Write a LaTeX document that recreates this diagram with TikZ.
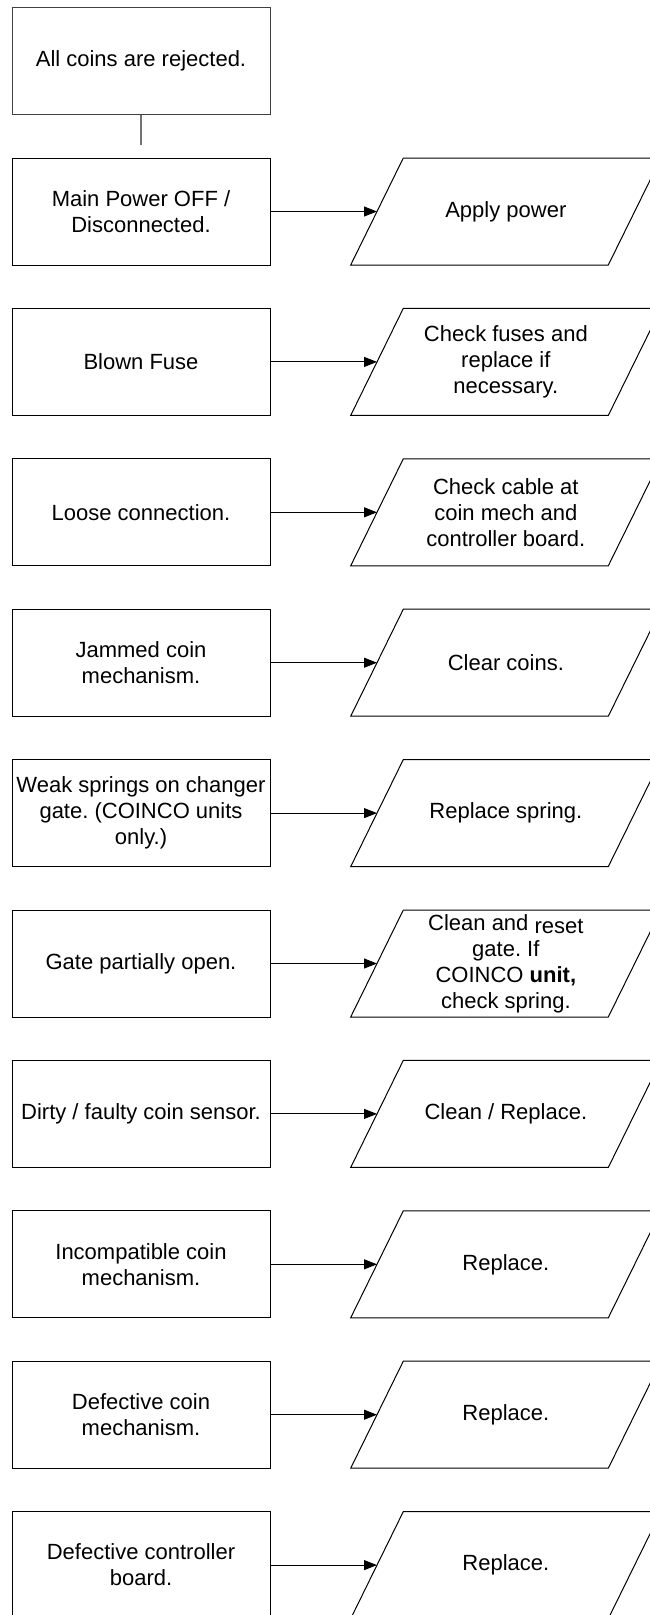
\documentclass[tikz,border=0pt]{standalone}
\usepackage{fontspec}
\setmainfont{Liberation Sans}
\usetikzlibrary{arrows.meta}
\frenchspacing
\newcommand{\diagfont}{\fontsize{22}{26}\selectfont\frenchspacing}
\newcommand{\mkrow}[4]{%
  \node[cause] (c#1) at (141,#2) {#3};
  \node[remedy] (r#1) at (505.85,#2) {#4};
  \draw[para] (350.7,#2+53.5) -- (403.3,#2-53.5) -- (661,#2-53.5) -- (608.3,#2+53.5) -- cycle;
  \coordinate (in#1) at (377,#2);
  \draw[link] (c#1.east) -- (in#1);
}
\begin{document}
\begin{tikzpicture}[x=1pt,y=-1pt,
  cause/.style={draw=black, line width=1pt, minimum width=258pt, minimum height=107pt, inner sep=0pt, align=center, font=\diagfont},
  remedy/.style={inner sep=0pt, align=center, font=\diagfont},
  para/.style={draw=black, line width=1pt, line join=miter},
  link/.style={draw=black, line width=1pt, -{Triangle[length=13pt,width=10pt]}}]
\useasboundingbox (0,0) rectangle (650,1615);
\clip (0,0) rectangle (650,1615);
\fill[white] (0,0) rectangle (650,1615);
\node[cause, draw=black!75] (top) at (141,60.8) {All coins are rejected.};
\coordinate (topend) at (141,145.3);
\draw[black!55, line width=1.2pt] (top.south) -- (topend);
\mkrow{1}{211.5}{Main Power OFF /\\Disconnected.}{Apply power}
\mkrow{2}{361.9}{Blown Fuse}{Check fuses and\\replace if\\necessary.}
\mkrow{3}{512.3}{Loose connection.}{Check cable at\\coin mech and\\controller board.}
\mkrow{4}{662.7}{Jammed coin\\mechanism.}{Clear coins.}
\mkrow{5}{813.1}{Weak springs on changer\\gate. (COINCO units\\only.)}{Replace spring.}
\mkrow{6}{963.5}{Gate partially open.}{Clean and \raisebox{-3pt}{reset}\\gate. If\\COINCO \textbf{unit,}\\check spring.}
\mkrow{7}{1113.9}{Dirty / faulty coin sensor.}{Clean / Replace.}
\mkrow{8}{1264.3}{Incompatible coin\\mechanism.}{Replace.}
\mkrow{9}{1414.7}{Defective coin\\mechanism.}{Replace.}
\mkrow{10}{1565.1}{Defective controller\\board.}{Replace.}
\end{tikzpicture}
\end{document}
